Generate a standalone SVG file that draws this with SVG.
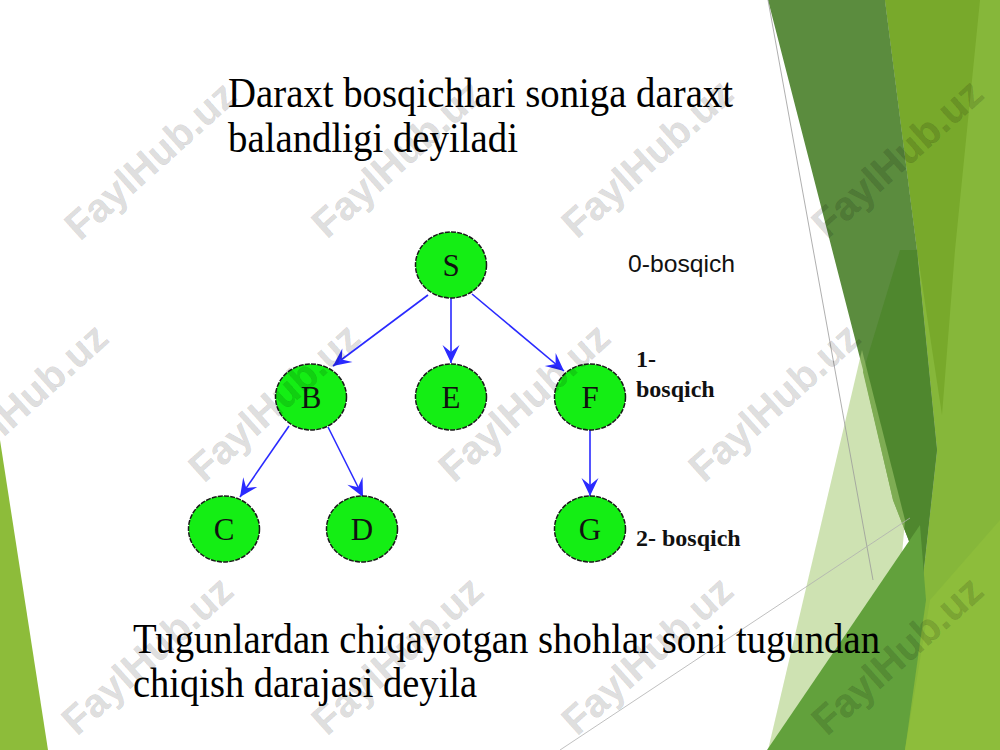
<svg xmlns="http://www.w3.org/2000/svg" width="1000" height="750" viewBox="0 0 1000 750">
<defs>
<style>
.node ellipse{fill:#14ee14;stroke:#1a1a1a;stroke-width:1.5;stroke-dasharray:5 1.2}
.node text{font-family:"Liberation Serif","Times New Roman",serif;font-size:31px;fill:#111;text-anchor:middle;dominant-baseline:central}
.edge{stroke:#2a2aff;stroke-width:1.6;fill:none;marker-end:url(#vee)}
.serif{font-family:"Liberation Serif","Times New Roman",serif;fill:#000}
.lvl{font-family:"Liberation Serif","Times New Roman",serif;font-weight:bold;font-size:24px;fill:#111}
.wm{font-family:"Liberation Sans",Arial,sans-serif;font-weight:bold;font-size:40px;fill:#000;fill-opacity:0.14;stroke:#000;stroke-opacity:0.05;stroke-width:1;text-anchor:middle;dominant-baseline:central}
</style>
<marker id="vee" markerUnits="userSpaceOnUse" markerWidth="22" markerHeight="22" viewBox="-20 -11 22 22" refX="0" refY="0" orient="auto">
<path d="M0,0 L-18,-8.5 L-11,0 L-18,8.5 Z" fill="#2a2aff"/>
</marker>
</defs>
<rect width="1000" height="750" fill="#ffffff"/>
<g id="decor">
<polygon points="885,0 1000,0 1000,750 880,750 923,577 937,450 917,250" fill="#86b73a"/>
<polygon points="885,0 980,0 955,250 942,415 917,250" fill="#78a92b"/>
<polygon points="768,0 885,0 917,250 937,450 923,577 893,500 863,370" fill="#5b8c3e"/>
<polygon points="900,250 917,250 937,450 923,577 893,500 863,372" fill="#4f872e"/>
<polygon points="862,350 905,520 885,750 768,750" fill="#a6ca72" fill-opacity="0.55"/>
<polygon points="767,750 920,525 926,600 905,750" fill="#62a13c"/>
<polygon points="930,600 1000,520 1000,750 905,750" fill="#8dbd3b"/>
<polygon points="0,440 48,750 0,750" fill="#8dbc3a"/>
<line x1="768" y1="0" x2="873" y2="580" stroke="#9a9a9a" stroke-width="0.8"/>
<line x1="560" y1="750" x2="910" y2="518" stroke="#b0b0b0" stroke-width="0.8"/>
</g>
<g id="title">
<text class="serif" x="228" y="107" font-size="42" textLength="505" lengthAdjust="spacingAndGlyphs">Daraxt bosqichlari soniga daraxt</text>
<text class="serif" x="228" y="152" font-size="42" textLength="290" lengthAdjust="spacingAndGlyphs">balandligi deyiladi</text>
</g>
<g id="connectors">
<line class="edge" x1="428" y1="295" x2="333" y2="366"/>
<line class="edge" x1="451" y1="298" x2="451" y2="363"/>
<line class="edge" x1="472" y1="294" x2="564" y2="371"/>
<line class="edge" x1="289" y1="426" x2="240" y2="497"/>
<line class="edge" x1="328" y1="427" x2="363" y2="497"/>
<line class="edge" x1="590" y1="430" x2="590" y2="496"/>
</g>
<g id="node-S" class="node"><ellipse cx="451" cy="265" rx="35.5" ry="33"/><text x="451" y="265">S</text></g>
<g id="node-B" class="node"><ellipse cx="311" cy="397" rx="35.5" ry="33"/><text x="311" y="397">B</text></g>
<g id="node-E" class="node"><ellipse cx="451" cy="397" rx="35.5" ry="33"/><text x="451" y="397">E</text></g>
<g id="node-F" class="node"><ellipse cx="590" cy="397" rx="35.5" ry="33"/><text x="590" y="397">F</text></g>
<g id="node-C" class="node"><ellipse cx="224" cy="529" rx="35.5" ry="33"/><text x="224" y="529">C</text></g>
<g id="node-D" class="node"><ellipse cx="362" cy="529" rx="35.5" ry="33"/><text x="362" y="529">D</text></g>
<g id="node-G" class="node"><ellipse cx="590" cy="529" rx="35.5" ry="33"/><text x="590" y="529">G</text></g>
<g id="levels">
<text x="628" y="272" font-family="Liberation Sans, Arial, sans-serif" font-size="24" fill="#111" textLength="107" lengthAdjust="spacingAndGlyphs">0-bosqich</text>
<text class="lvl" x="636" y="367">1-</text>
<text class="lvl" x="636" y="397">bosqich</text>
<text class="lvl" x="636" y="546">2- bosqich</text>
</g>
<g id="bottom-text">
<text class="serif" x="133" y="653" font-size="42" textLength="747" lengthAdjust="spacingAndGlyphs">Tugunlardan chiqayotgan shohlar soni tugundan</text>
<text class="serif" x="133" y="697" font-size="42" textLength="344" lengthAdjust="spacingAndGlyphs">chiqish darajasi deyila</text>
</g>
<g id="watermarks">
<text class="wm" transform="translate(150,160) rotate(-42)">FaylHub.uz</text>
<text class="wm" transform="translate(397,158) rotate(-42)">FaylHub.uz</text>
<text class="wm" transform="translate(647,158) rotate(-42)">FaylHub.uz</text>
<text class="wm" transform="translate(897,158) rotate(-42)">FaylHub.uz</text>
<text class="wm" transform="translate(22,402) rotate(-42)">FaylHub.uz</text>
<text class="wm" transform="translate(274,402) rotate(-42)">FaylHub.uz</text>
<text class="wm" transform="translate(524,402) rotate(-42)">FaylHub.uz</text>
<text class="wm" transform="translate(774,402) rotate(-42)">FaylHub.uz</text>
<text class="wm" transform="translate(147,655) rotate(-42)">FaylHub.uz</text>
<text class="wm" transform="translate(397,655) rotate(-42)">FaylHub.uz</text>
<text class="wm" transform="translate(647,655) rotate(-42)">FaylHub.uz</text>
<text class="wm" transform="translate(897,655) rotate(-42)">FaylHub.uz</text>
</g>
</svg>
